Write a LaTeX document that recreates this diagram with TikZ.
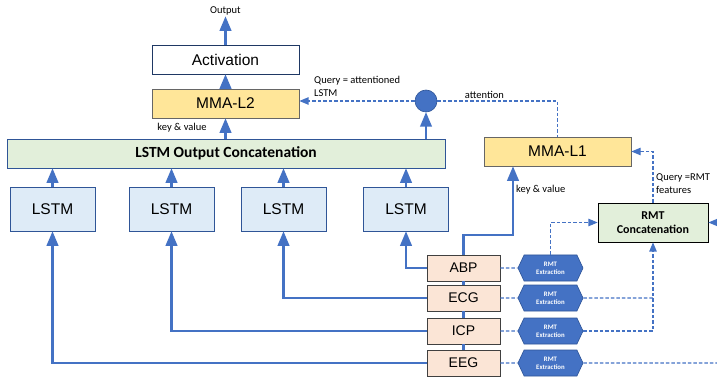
\documentclass[tikz,border=0pt]{standalone}
\usepackage{fontspec}
\setmainfont{Liberation Sans}
\newfontfamily\calib{Carlito}
\usepackage{tikz}
\usetikzlibrary{arrows,shapes.symbols}

\definecolor{linkblue}{HTML}{4472C4}
\definecolor{boxblue}{HTML}{2F5597}
\definecolor{navy}{HTML}{1F3864}
\definecolor{mmafill}{HTML}{FFE699}
\definecolor{catfill}{HTML}{E2EFDA}
\definecolor{lstmfill}{HTML}{DEEBF7}
\definecolor{sigfill}{HTML}{FBE5D6}

\begin{document}
\begin{tikzpicture}[x=1pt,y=-1pt,>=triangle 45,node distance=87pt,
		link/.style={->,linkblue,line width=2.4pt},
		query/.style={->,linkblue,line width=1.1pt,dash pattern=on 3.5pt off 2pt},
		box/.style={draw,line width=0.9pt,inner sep=0pt,minimum height=29pt,font=\fontsize{15.5}{18}\selectfont},
		plain box/.style={box,fill=white,draw=navy,minimum width=147pt},
		mma/.style={box,fill=mmafill,draw=black!60,minimum width=147pt},
		cat box/.style={box,fill=catfill,draw=boxblue,minimum width=438pt,font=\calib\bfseries\fontsize{15.5}{18}\selectfont},
		lstm node/.style={box,fill=lstmfill,draw=boxblue,minimum width=85pt,minimum height=44pt},
		sig/.style={box,fill=sigfill,draw=black!75,minimum width=73pt,minimum height=26pt,font=\fontsize{14}{16}\selectfont},
		rmt/.style={signal,signal to=west and east,signal pointer angle=130,fill=linkblue,draw=boxblue,line width=0.6pt,
			text=white,align=center,inner sep=1pt,minimum width=65pt,minimum height=26pt,font=\calib\bfseries\fontsize{6.8}{8}\selectfont},
		rmt cat/.style={box,fill=catfill,draw=black,minimum width=110pt,minimum height=39pt,align=center,font=\calib\bfseries\fontsize{12}{14.5}\selectfont},
		dot/.style={circle,fill=linkblue,draw=boxblue,line width=0.6pt,minimum size=22pt,inner sep=0pt},
		note/.style={inner sep=1pt,align=left,font=\calib\fontsize{10.5}{13}\selectfont}]
	\useasboundingbox (0,0) rectangle (717,379);

	% top of the stack
	\node[note] (out) at (225.5,11) {Output};
	\node[plain box] (act) at (225.5,59.5) {Activation};
	\node[mma] (mma2) at (225.5,103.5) {MMA-L2};
	\node[cat box] (cat) at (226,153.5) {LSTM Output Concatenation};
	\node[dot] (att) at (426,101) {};

	% one LSTM per signal
	\node[lstm node] (l1) at (52.5,209) {LSTM};
	\node[lstm node] (l2) at (171.5,209) {LSTM};
	\node[lstm node] (l3) at (283.5,209) {LSTM};
	\node[lstm node] (l4) at (406,209) {LSTM};

	\node[mma] (mma1) at (557.5,151.5) {MMA-L1};
	\node[rmt cat] (rcat) at (653,222.5) {RMT\\Concatenation};

	% input signals and their RMT blocks
	\node[sig] (abp) at (463.5,268) {ABP};
	\node[sig] (ecg) at (463.5,298) {ECG};
	\node[sig] (icp) at (463.5,331) {ICP};
	\node[sig] (eeg) at (463.5,363) {EEG};
	\node[rmt] (xabp) [right of=abp] {RMT\\Extraction};
	\node[rmt] (xecg) [right of=ecg] {RMT\\Extraction};
	\node[rmt] (xicp) [right of=icp] {RMT\\Extraction};
	\node[rmt] (xeeg) [right of=eeg] {RMT\\Extraction};

	\coordinate (kv) at (513,235);
	\coordinate (edge) at (722,363);

	% labels
	\node[note] (kv2) at (182,128) {key \& value};
	\node[note,anchor=west] (kv1) at (515,190) {key \& value};
	\node[note,anchor=west] (q2) at (313,86.5) {Query = attentioned\\LSTM};
	\node[note] (attn) at (484.5,95) {attention};
	\node[note,anchor=west] (q1) at (655,183.5) {Query =RMT\\features};

	% solid paths
	\draw[link] (act) -- (out);
	\draw[link] (mma2) -- (act);
	\draw[link] (cat.north -| mma2) -- (mma2.south);
	\draw[link] (cat.north -| att) -- (att);
	\foreach \n in {1,...,4}
		\draw[link] (l\n) -- (l\n |- cat.south);
	\draw[link] (abp) -| (l4);
	\draw[link] (ecg) -| (l3);
	\draw[link] (icp) -| (l2);
	\draw[link] (eeg) -| (l1);
	\draw[link,-] (eeg) -- (icp) -- (ecg) -- (abp);
	\draw[link] (abp) |- (kv) -- (kv |- mma1.south);

	% dashed query paths
	\draw[query] (att) -- (att -| mma2.east);
	\draw[query,-] (att) -| (mma1);
	\draw[query] (rcat) |- (mma1);
	\foreach \s in {abp,ecg,icp,eeg}
		\draw[query,-] (\s) -- (x\s);
	\draw[query] (xabp) |- (rcat);
	\draw[query] (xicp) -| (rcat);
	\draw[query,-] (xecg) -- (xecg -| rcat);
	\draw[query] (xeeg) -- (edge) |- (rcat);
\end{tikzpicture}
\end{document}
